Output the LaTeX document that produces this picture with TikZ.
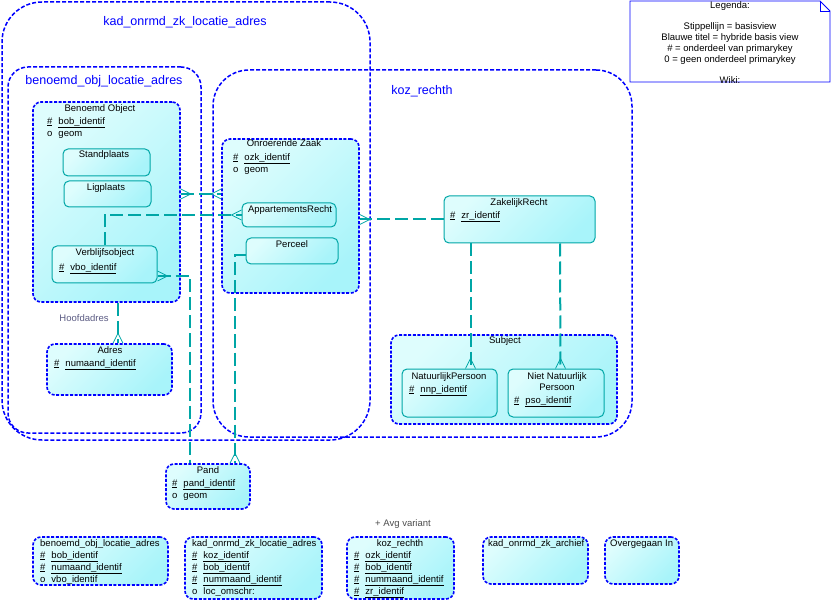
\documentclass[tikz,border=0pt]{standalone}
\usepackage{fontspec}
\setmainfont{Liberation Sans}

\definecolor{zkblue}{RGB}{0,0,255}
\definecolor{zkteal}{RGB}{0,166,166}
\definecolor{zkfillA}{RGB}{222,253,253}
\definecolor{zkfillB}{RGB}{168,244,250}
\definecolor{zklabel}{RGB}{90,90,130}

\newcommand{\entfont}{\fontsize{9.5}{12}\selectfont}
\newcommand{\grpfont}{\fontsize{12.5}{14}\selectfont}
\newcommand{\pkey}[1]{\underline{\#}\hspace{6pt}\underline{#1}}
\newcommand{\okey}[1]{o\hspace{6pt}#1}

\tikzset{
  group/.style={draw=zkblue, line width=1.5pt, dash pattern=on 4pt off 2pt, rounded corners=#1, inner sep=0pt},
  group/.default=38pt,
  grouptitle/.style={text=zkblue, font=\grpfont, inner sep=0pt},
  entity/.style={draw=zkblue, line width=1.6pt, dash pattern=on 3pt off 1.6pt, rounded corners=8pt,
    left color=zkfillA, right color=zkfillB, shading angle=45, inner sep=0pt},
  part/.style={draw=zkteal, line width=1pt, rounded corners=5pt,
    left color=zkfillA, right color=zkfillB, shading angle=45, inner sep=0pt},
  etitle/.style={font=\entfont, inner sep=0pt, text height=7pt, text depth=2pt},
  attrs/.style={font=\entfont, inner sep=0pt, anchor=north west, align=left},
  rel/.style={draw=zkteal, line width=2pt, dash pattern=on 13pt off 5pt},
  crowD/.pic={\draw[zkteal, line width=0.8pt] (-5,0) -- (0,-10) -- (5,0);},
  crowL/.pic={\draw[zkteal, line width=0.8pt] (0,-5) -- (10,0) -- (0,5);},
  crowR/.pic={\draw[zkteal, line width=0.8pt] (0,-5) -- (-10,0) -- (0,5);}
}

\begin{document}
\begin{tikzpicture}[x=1pt,y=-1pt]
  \useasboundingbox (0,0) rectangle (832,601);

  % Groups
  \node[group=40pt, minimum width=368pt, minimum height=438pt] (kad) at (186,221) {};
  \node[grouptitle] (kad-t) at (185,22) {kad\_onrmd\_zk\_locatie\_adres};
  \node[group=20pt, minimum width=193pt, minimum height=366pt] (boa) at (104.5,250) {};
  \node[grouptitle] (boa-t) at (104,81) {benoemd\_obj\_locatie\_adres};
  \node[group=36pt, minimum width=419pt, minimum height=367pt] (koz) at (422.5,253.5) {};
  \node[grouptitle] (koz-t) at (422,91) {koz\_rechth};

  % Benoemd Object
  \node[entity, minimum width=147pt, minimum height=200pt] (bo) at (106.5,202) {};
  \node[etitle] (bo-t) at (100,109.5) {Benoemd Object};
  \node[attrs] (bo-a) at (47,117) {\pkey{bob\_identif}\\\okey{geom}};
  \node[part, minimum width=87pt, minimum height=27pt] (sp) at (106.5,162.5) {};
  \node[etitle] (sp-t) at (104,155.5) {Standplaats};
  \node[part, minimum width=87pt, minimum height=26pt] (lp) at (107.5,194) {};
  \node[etitle] (lp-t) at (106,188.5) {Ligplaats};
  \node[part, minimum width=105pt, minimum height=37pt] (vbo) at (104.5,264.5) {};
  \node[etitle] (vbo-t) at (105,253.5) {Verblijfsobject};
  \node[attrs] (vbo-a) at (59,263) {\pkey{vbo\_identif}};

  % Onroerende Zaak
  \node[entity, minimum width=137pt, minimum height=154pt] (oz) at (290.5,216) {};
  \node[etitle] (oz-t) at (284,144.5) {Onroerende Zaak};
  \node[attrs] (oz-a) at (233,153) {\pkey{ozk\_identif}\\\okey{geom}};
  \node[part, minimum width=94pt, minimum height=24pt] (ar) at (289,215) {};
  \node[etitle] (ar-t) at (290,210.5) {AppartementsRecht};
  \node[part, minimum width=92pt, minimum height=26pt] (pc) at (292,251) {};
  \node[etitle] (pc-t) at (292,245.5) {Perceel};

  % Zakelijk Recht
  \node[part, minimum width=151pt, minimum height=47pt] (zr) at (519.5,219.5) {};
  \node[etitle] (zr-t) at (519,203.5) {ZakelijkRecht};
  \node[attrs] (zr-a) at (450,211) {\pkey{zr\_identif}};

  % Subject
  \node[entity, minimum width=226pt, minimum height=89pt] (sub) at (504,379.5) {};
  \node[etitle] (sub-t) at (505,341.5) {Subject};
  \node[part, minimum width=95pt, minimum height=48pt] (np) at (449.5,393) {};
  \node[etitle] (np-t) at (449,376.5) {NatuurlijkPersoon};
  \node[attrs] (np-a) at (409,385) {\pkey{nnp\_identif}};
  \node[part, minimum width=96pt, minimum height=48pt] (nnp) at (556,393) {};
  \node[font=\fontsize{9.5}{11}\selectfont, inner sep=0pt, align=center] (nnp-t) at (557,382) {Niet Natuurlijk\\Persoon};
  \node[attrs] (nnp-a) at (514,396) {\pkey{pso\_identif}};

  % Adres and Pand
  \node[entity, minimum width=125pt, minimum height=51pt] (adres) at (109.5,369.5) {};
  \node[etitle] (adres-t) at (110,350.5) {Adres};
  \node[attrs] (adres-a) at (54,359) {\pkey{numaand\_identif}};
  \node[entity, minimum width=84pt, minimum height=45pt] (pand) at (208,486.5) {};
  \node[etitle] (pand-t) at (208,470.5) {Pand};
  \node[attrs] (pand-a) at (172,479) {\pkey{pand\_identif}\\\okey{geom}};

  % Relations
  \draw[rel] ([yshift=8pt]bo.east) -- ([yshift=22pt]oz.west);
  \pic at ([yshift=8pt]bo.east) {crowL};
  \pic at ([yshift=22pt]oz.west) {crowR};
  \draw[rel] (vbo.north) |- (ar.west);
  \pic at (ar.west) {crowR};
  \draw[rel] (zr.west) -- (zr.west -| oz.east);
  \pic at (zr.west -| oz.east) {crowL};
  \draw[rel] ([yshift=-11.5pt]vbo.east) -| ([xshift=-18pt]pand.north);
  \pic at ([yshift=-11.5pt]vbo.east) {crowL};
  \draw[rel] ([yshift=-4pt]pc.west) -| ([xshift=27pt]pand.north);
  \pic at ([xshift=27pt]pand.north) {crowD};
  \draw[rel] ([xshift=11.5pt]bo.south) -- ([xshift=8.5pt]adres.north);
  \pic at ([xshift=8.5pt]adres.north) {crowD};
  \node[font=\entfont, text=zklabel, inner sep=0pt] (hoofd) at (84,318) {Hoofdadres};
  \draw[rel] ([xshift=-49pt]zr.south) -- ([xshift=21pt]np.north);
  \pic at ([xshift=21pt]np.north) {crowD};
  \draw[rel] ([xshift=40.5pt]zr.south) -- ([xshift=4.5pt]nnp.north);
  \pic at ([xshift=4.5pt]nnp.north) {crowD};

  % Basis views
  \node[entity, minimum width=135pt, minimum height=48pt] (v1) at (100.5,561) {};
  \node[etitle, anchor=west] (v1-t) at (40,543.5) {benoemd\_obj\_locatie\_adres};
  \node[attrs] (v1-a) at (40,551) {\pkey{bob\_identif}\\\pkey{numaand\_identif}\\\okey{vbo\_identif}};
  \node[entity, minimum width=137pt, minimum height=62pt] (v2) at (253.5,568) {};
  \node[etitle, anchor=west] (v2-t) at (192,543.5) {kad\_onrmd\_zk\_locatie\_adres};
  \node[attrs] (v2-a) at (192,551) {\pkey{koz\_identif}\\\pkey{bob\_identif}\\\pkey{nummaand\_identif}\\\okey{loc\_omschr:}};
  \node[font=\entfont, text=black!70, inner sep=0pt] (avg) at (403,524) {+ Avg variant};
  \node[entity, minimum width=107pt, minimum height=62pt] (v3) at (400.5,568) {};
  \node[etitle] (v3-t) at (400,543.5) {koz\_rechth};
  \node[attrs] (v3-a) at (354,551) {\pkey{ozk\_identif}\\\pkey{bob\_identif}\\\pkey{nummaand\_identif}\\\pkey{zr\_identif}};
  \node[entity, minimum width=105pt, minimum height=47pt] (v4) at (535.5,560.5) {};
  \node[etitle, anchor=west] (v4-t) at (488,543.5) {kad\_onrmd\_zk\_archief};
  \node[entity, minimum width=74pt, minimum height=47pt] (v5) at (642,560.5) {};
  \node[etitle, anchor=west] (v5-t) at (610,543.5) {Overgegaan In};

  % Legend
  \draw[zkblue, line width=0.8pt] (630,1) -- (820,1) -- (830,11) -- (830,82) -- (630,82) -- cycle;
  \draw[zkblue, line width=0.8pt] (820,1) -- (820,11) -- (830,11);
  \node[font=\fontsize{9.5}{10.7}\selectfont, align=center, anchor=north, inner sep=0pt] (legend) at (730,1.5)
    {Legenda:\\[10.7pt]Stippellijn =  basisview\\Blauwe titel = hybride basis view\\\# = onderdeel van primarykey\\0 = geen onderdeel primarykey\\[10.7pt]Wiki:};
\end{tikzpicture}
\end{document}
